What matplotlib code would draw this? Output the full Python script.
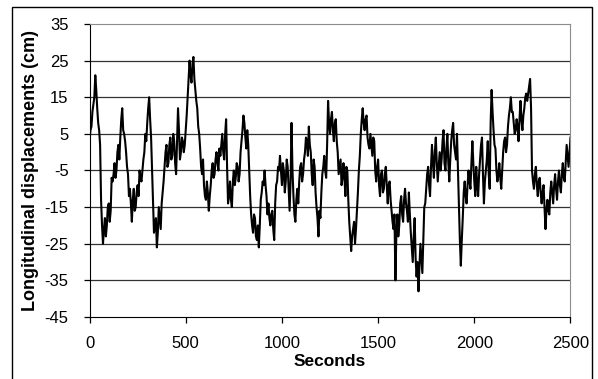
import numpy as np
import matplotlib
matplotlib.use("Agg")
import matplotlib.pyplot as plt
from matplotlib.patches import Rectangle

plt.rcParams['font.family'] = ['Liberation Sans', 'DejaVu Sans']
plt.rcParams['axes.unicode_minus'] = False

# displacement (cm) in 500 s blocks
# disp_*: values at 0, 10, 20 ... s ; mid_*: values at 5, 15, 25 ... s
disp_0_490 = [3, 7, 13, 21, 12, 6, -13, -25, -18, -20,
              -14, -16, -8, -3, -5, 2, 4, 12, 5, 0,
              -6, -10, -19, -10, -15, -9, -5, -8, -2, 5,
              8, 15, 4, -15, -20, -26, -15, -21, -11, -4,
              2, -3, 4, -1, 3, -6, 12, -2, 4, 0]
mid_0_490 = [6, 11, 15, 17, 8, 2, -20, -21, -23, -15,
             -19, -7, -6, -7, 0, -2, 9, 6, 3, -4,
             -12, -14, -13, -16, -11, -12, -7, -5, 0, 3,
             12, 9, -5, -22, -18, -22, -18, -14, -8, 0,
             -4, 2, -2, 5, -3, 3, 6, 0, 3, 2]

disp_500_990 = [6, 15, 25, 19, 26, 17, 12, 5, -4, -2,
                -12, -8, -16, -9, -3, -6, 0, -5, -1, 5,
                -2, 9, -14, -8, -15, -5, -7, -4, -6, 3,
                10, 4, 6, -5, -17, -22, -18, -24, -26, -13,
                -8, -5, -12, -14, -20, -16, -24, -9, -4, -1]
mid_500_990 = [10, 20, 21, 24, 20, 14, 7, 1, -6, -9,
               -13, -11, -12, -5, -7, -2, -3, 1, 2, 0,
               5, -4, -12, -13, -8, -9, -3, -8, 0, 6,
               8, 1, 2, -12, -20, -17, -23, -20, -20, -11,
               -9, -9, -17, -18, -17, -21, -14, -8, -5, -5]

disp_1000_1490 = [-9, -5, -8, -4, -16, 8, -12, -19, -10, -8,
                  -3, -6, 0, 3, 7, 0, -9, -4, -15, -23,
                  -18, -6, -1, -7, 14, 5, 11, 3, 9, 0,
                  -4, -9, -3, -12, -5, -19, -27, -21, -25, -16,
                  -5, 5, 12, 6, 10, 2, 5, -1, 3, -8]
mid_1000_1490 = [-3, -11, -2, -10, -8, -5, -17, -13, -14, -4,
                 -8, -2, 4, -1, 2, -6, -2, -11, -18, -16,
                 -11, -4, -5, 2, 8, 9, 6, 8, 3, -6,
                 -2, -7, -7, -4, -13, -23, -23, -19, -21, -11,
                 -1, 9, 8, 9, 4, 1, 2, 4, -5, -4]

disp_1500_1990 = [-2, -12, -5, -10, -4, -14, -8, -16, -21, -35,
                  -17, -20, -12, -19, -10, -16, -11, -22, -30, -18,
                  -34, -38, -25, -33, -15, -10, -4, -12, 2, -7,
                  4, -8, 0, -2, 6, -5, 5, -8, 3, 8,
                  0, 5, -15, -31, -18, -8, -14, -5, -10, 3]
mid_1500_1990 = [-9, -6, -11, -6, -9, -9, -13, -19, -17, -22,
                 -23, -14, -17, -13, -14, -19, -17, -26, -23, -29,
                 -30, -31, -29, -24, -14, -6, -9, -4, -3, 0,
                 -3, -4, -5, 3, -3, 1, -3, -2, 6, 2,
                 -2, -5, -24, -24, -11, -12, -9, -8, -3, -3]

disp_2000_2500 = [-8, -4, -12, -2, 4, -14, -5, 3, -10, 17,
                  6, 1, -8, -3, -10, 0, 4, 2, 10, 15,
                  11, 5, 9, 3, 14, 6, 12, 16, 16, 20,
                  -5, -10, -4, -12, -7, -14, -9, -21, -13, -17,
                  -8, -14, -6, -13, -5, -11, -3, -8, 2, -4,
                  4]
mid_2000_2490 = [-12, -9, -6, 2, -6, -8, -2, -6, 8, 11,
                 2, -5, -6, -7, -5, 3, 0, 7, 12, 11,
                 8, 6, 7, 9, 9, 10, 15, 14, 18, 12,
                 -8, -6, -9, -8, -11, -11, -15, -16, -16, -11,
                 -11, -9, -10, -8, -9, -6, -7, -3, -1, 0]

disp = disp_0_490 + disp_500_990 + disp_1000_1490 + disp_1500_1990 + disp_2000_2500
mids = mid_0_490 + mid_500_990 + mid_1000_1490 + mid_1500_1990 + mid_2000_2490

values = np.empty(len(disp) + len(mids))
values[0::2] = disp
values[1::2] = mids
seconds = np.arange(len(values)) * 5

fig = plt.figure(figsize=(5.98, 3.79), dpi=100)
ax = fig.add_axes([0.1497, 0.1636, 0.8043, 0.7731])

ax.plot(seconds, values, color='black', lw=1.5)

ax.set_xlim(0, 2500)
ax.set_ylim(-45, 35)
ax.set_xticks(range(0, 2501, 500))
ax.set_yticks(range(-45, 36, 10))
for yv in range(-35, 35, 10):
    ax.axhline(yv, color='#333333', lw=0.9, zorder=0)

ax.spines['top'].set_color('#8c8c8c')
ax.spines['right'].set_color('#8c8c8c')
ax.spines['left'].set_color('black')
ax.spines['bottom'].set_color('black')
ax.tick_params(axis='both', direction='out', length=4, width=0.9)
ax.tick_params(axis='x', pad=10, labelsize=12)
ax.tick_params(axis='y', pad=11, labelsize=12)

ax.set_xlabel('Seconds', fontsize=12.5, fontweight='bold', labelpad=2)
ax.set_ylabel('Longitudinal displacements (cm)', fontsize=13, fontweight='bold', labelpad=4)

fig.patches.append(Rectangle((12 / 598, -0.01), 580 / 598, 0.9915,
                             transform=fig.transFigure, fill=False,
                             edgecolor='black', lw=1.0))

fig.savefig('out.png', dpi=100)
